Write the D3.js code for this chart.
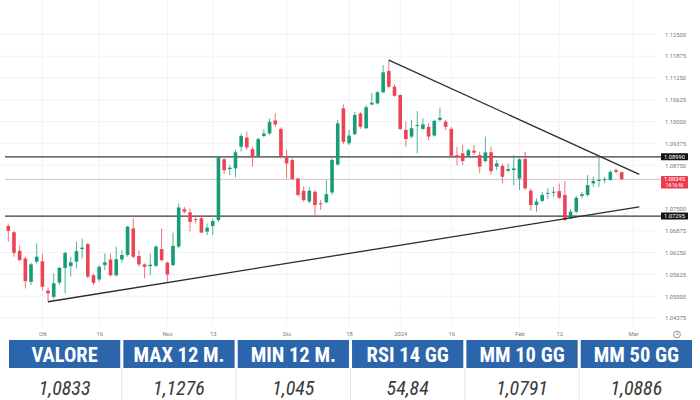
<!DOCTYPE html>
<html><head><meta charset="utf-8">
<script src="https://cdn.jsdelivr.net/npm/d3@7"></script>
<style>html,body{margin:0;padding:0;background:#fff;}svg{display:block;}</style>
</head><body>
<svg id="chart" width="700" height="400"></svg>
<script>
// ---- data ----
const candleOpen = [1.0701,1.0683,1.0630,1.0608,1.0541,1.0599,1.0600,1.0516,1.0498,1.0539,
1.0581,1.0586,1.0599,1.0635,1.0649,1.0560,1.0548,1.0589,1.0605,1.0560,
1.0605,1.0618,1.0694,1.0615,1.0591,1.0586,1.0587,1.0635,1.0596,1.0589,
1.0642,1.0749,1.0740,1.0721,1.0723,1.0685,1.0701,1.0718,1.0892,1.0864,
1.0866,1.0928,1.0954,1.0921,1.0901,1.0959,1.0966,1.1003,1.0979,1.0898,
1.0890,1.0837,1.0802,1.0771,1.0799,1.0766,1.0769,1.0797,1.0877,1.1038,
1.0938,1.0964,1.1023,1.0981,1.1049,1.1052,1.1084,1.1145,1.1100,1.1076,
1.0976,1.0957,1.0988,1.0979,1.0985,1.0960,1.1005,1.1000,1.0979,1.0904,
1.0909,1.0902,1.0917,1.0904,1.0887,1.0912,1.0871,1.0873,1.0859,1.0861,
1.0837,1.0893,1.0802,1.0761,1.0773,1.0794,1.0797,1.0801,1.0790,1.0723,
1.0742,1.0787,1.0790,1.0823,1.0830,1.0833,1.0833,1.0861,1.0855];
const candleHigh = [1.0708,1.0687,1.0646,1.0613,1.0596,1.0651,1.0622,1.0525,1.0565,1.0584,
1.0627,1.0613,1.0656,1.0665,1.0653,1.0565,1.0589,1.0622,1.0622,1.0642,
1.0632,1.0701,1.0723,1.0632,1.0594,1.0622,1.0646,1.0694,1.0599,1.0682,
1.0766,1.0756,1.0751,1.0732,1.0732,1.0708,1.0723,1.0901,1.0895,1.0876,
1.0919,1.0966,1.0971,1.0928,1.0955,1.0978,1.1009,1.1024,1.0983,1.0919,
1.0895,1.0840,1.0814,1.0812,1.0804,1.0775,1.0833,1.0895,1.1005,1.1049,
1.0976,1.1028,1.1028,1.1047,1.1081,1.1088,1.1162,1.1176,1.1107,1.1078,
1.1000,1.1005,1.1030,1.1009,1.0995,1.1005,1.1040,1.1005,1.0985,1.0928,
1.0933,1.0923,1.0933,1.0914,1.0957,1.0928,1.0890,1.0880,1.0880,1.0904,
1.0895,1.0914,1.0809,1.0780,1.0799,1.0809,1.0813,1.0823,1.0830,1.0749,
1.0787,1.0799,1.0847,1.0842,1.0899,1.0842,1.0861,1.0866,1.0856];
const candleLow = [1.0656,1.0613,1.0602,1.0522,1.0532,1.0594,1.0517,1.0484,1.0491,1.0532,
1.0508,1.0556,1.0580,1.0608,1.0551,1.0532,1.0541,1.0575,1.0556,1.0556,
1.0596,1.0613,1.0608,1.0584,1.0551,1.0560,1.0584,1.0599,1.0541,1.0586,
1.0637,1.0737,1.0685,1.0708,1.0680,1.0675,1.0675,1.0713,1.0850,1.0847,
1.0840,1.0914,1.0919,1.0871,1.0895,1.0955,1.0962,1.0985,1.0895,1.0837,
1.0833,1.0785,1.0771,1.0766,1.0732,1.0747,1.0766,1.0790,1.0875,1.0935,
1.0933,1.0961,1.0979,1.0979,1.1047,1.1049,1.1081,1.1095,1.1071,1.0976,
1.0928,1.0952,1.0909,1.0976,1.0947,1.0957,1.1000,1.0976,1.0899,1.0875,
1.0875,1.0899,1.0904,1.0852,1.0883,1.0849,1.0861,1.0823,1.0856,1.0818,
1.0804,1.0804,1.0744,1.0742,1.0769,1.0778,1.0785,1.0778,1.0715,1.0721,
1.0737,1.0780,1.0785,1.0813,1.0813,1.0823,1.0830,1.0852,1.0833];
const candleClose = [1.0687,1.0624,1.0603,1.0543,1.0591,1.0613,1.0527,1.0508,1.0537,1.0581,
1.0624,1.0597,1.0629,1.0639,1.0556,1.0538,1.0584,1.0597,1.0560,1.0606,
1.0618,1.0699,1.0613,1.0591,1.0584,1.0590,1.0642,1.0603,1.0562,1.0644,
1.0754,1.0742,1.0713,1.0718,1.0682,1.0696,1.0715,1.0898,1.0861,1.0868,
1.0912,1.0959,1.0926,1.0899,1.0950,1.0966,1.0999,1.0992,1.0899,1.0880,
1.0835,1.0790,1.0775,1.0802,1.0761,1.0764,1.0792,1.0890,1.0995,1.0942,
1.0960,1.1019,1.0985,1.1041,1.1054,1.1084,1.1141,1.1100,1.1074,1.0979,
1.0950,1.0981,1.0990,1.0992,1.0957,1.1002,1.1011,1.0985,1.0902,1.0899,
1.0887,1.0918,1.0911,1.0871,1.0912,1.0858,1.0880,1.0842,1.0864,1.0866,
1.0892,1.0809,1.0761,1.0771,1.0790,1.0796,1.0799,1.0782,1.0718,1.0742,
1.0782,1.0792,1.0818,1.0830,1.0833,1.0835,1.0856,1.0856,1.0835];

const xTickIndex = [6,16,28,36,49,60,69,78,90,97,110];
const xTickLabels = ["Ott","16","Nov","13","Dic","18","2024","16","Feb","12","Mar"];
const yTicks = [1.125,1.11875,1.1125,1.10625,1.1,1.09375,1.0875,1.075,1.06875,1.0625,1.05625,1.05,1.04375];

const levelValues = [1.0899, 1.07295];
const currentPrice = 1.08345;
const currentTimer = "14:16:46";
const trendDown = [[67, 1.1176], [111.1, 1.0849]];
const trendUp = [[7, 1.0484], [111.1, 1.0756]];

const tableHeaders = ["VALORE","MAX 12 M.","MIN 12 M.","RSI 14 GG","MM 10 GG","MM 50 GG"];
const tableValues = ["1,0833","1,1276","1,045","54,84","1,0791","1,0886"];

// ---- drawing ----
const svg = d3.select("#chart");
const UP = "#169c77", DOWN = "#ee4257";
const candles = candleOpen.map((o,i)=>({i, o, h:candleHigh[i], l:candleLow[i], c:candleClose[i]}));

const x = d3.scaleLinear().domain([0, candles.length-1]).range([8.3, 621.7]);
const y = d3.scaleLinear().domain([1.04375, 1.125]).range([318, 34.3]);

svg.append("rect").attr("width",700).attr("height",400).attr("fill","#fff");

// grid
const grid = svg.append("g");
grid.selectAll("line.h").data(yTicks).join("line")
  .attr("x1",0).attr("x2",656).attr("y1",d=>y(d)).attr("y2",d=>y(d))
  .attr("stroke","#f3f3f3").attr("stroke-width",1);
grid.selectAll("line.v").data(xTickIndex).join("line")
  .attr("x1",d=>x(d)).attr("x2",d=>x(d)).attr("y1",0).attr("y2",326)
  .attr("stroke","#f3f3f3").attr("stroke-width",1);

// current price line
svg.append("line").attr("x1",5).attr("x2",661)
  .attr("y1",y(currentPrice)).attr("y2",y(currentPrice))
  .attr("stroke","#d6c4c6").attr("stroke-width",1);

// level lines
svg.selectAll("line.level").data(levelValues).join("line")
  .attr("x1",5).attr("x2",661).attr("y1",d=>y(d)).attr("y2",d=>y(d))
  .attr("stroke","#3a3a3a").attr("stroke-width",1.3);

// candles
const cg = svg.append("g");
cg.selectAll("line.wick").data(candles).join("line")
  .attr("x1",d=>x(d.i)).attr("x2",d=>x(d.i))
  .attr("y1",d=>y(d.h)).attr("y2",d=>y(d.l))
  .attr("stroke",d=>d.c>=d.o?UP:DOWN).attr("stroke-opacity",0.75).attr("stroke-width",1);
const bw = 3.6;
cg.selectAll("rect.body").data(candles).join("rect")
  .attr("x",d=>x(d.i)-bw/2).attr("width",bw)
  .attr("y",d=>y(Math.max(d.o,d.c)))
  .attr("height",d=>Math.max(1, Math.abs(y(d.o)-y(d.c))))
  .attr("fill",d=>d.c>=d.o?UP:DOWN);

// trend lines
const tl = d3.line().x(d=>x(d[0])).y(d=>y(d[1]));
[trendDown, trendUp].forEach(t=>{
  svg.append("path").attr("d",tl(t)).attr("fill","none")
    .attr("stroke","#2b2b2b").attr("stroke-width",1.3);
});

// y axis labels
const yAxisG = svg.append("g").attr("transform","translate(686,0)")
  .call(d3.axisRight(y).tickValues(yTicks).tickFormat(d3.format(".5f")).tickSize(0).tickPadding(0));
yAxisG.select(".domain").remove();
yAxisG.selectAll("text").attr("text-anchor","end").attr("font-family","Roboto, sans-serif")
  .attr("font-size",5.8).attr("fill","#777");

// level label boxes
levelValues.forEach(v=>{
  const g = svg.append("g").attr("transform",`translate(661,${y(v)})`);
  g.append("rect").attr("x",0).attr("y",-3.5).attr("width",27).attr("height",7).attr("fill","#131313").attr("rx",0.5);
  g.append("text").attr("x",13.5).attr("y",2).attr("text-anchor","middle")
    .attr("font-family","Roboto, sans-serif").attr("font-size",5.8).attr("fill","#fff")
    .text(d3.format(".5f")(v));
});
{
  const g = svg.append("g").attr("transform",`translate(661,${y(currentPrice)})`);
  g.append("rect").attr("x",0).attr("y",-3.5).attr("width",27).attr("height",12.5).attr("fill","#ef3b4f").attr("rx",0.5);
  g.append("text").attr("x",13.5).attr("y",2).attr("text-anchor","middle")
    .attr("font-family","Roboto, sans-serif").attr("font-size",5.8).attr("fill","#fff")
    .text(d3.format(".5f")(currentPrice));
  g.append("text").attr("x",13.5).attr("y",7.6).attr("text-anchor","middle")
    .attr("font-family","Roboto, sans-serif").attr("font-size",4.6).attr("fill","#fff")
    .text(currentTimer);
}

// x axis labels
const xAxisG = svg.append("g").attr("transform","translate(0,334.5)")
  .call(d3.axisBottom(x).tickValues(xTickIndex).tickFormat((d,i)=>xTickLabels[i]).tickSize(0).tickPadding(0));
xAxisG.select(".domain").remove();
xAxisG.selectAll("text").attr("font-family","Roboto, sans-serif").attr("font-size",5.8).attr("fill","#777").attr("dy","0.3em").attr("y",0);

// clock icon
const ck = svg.append("g").attr("transform","translate(677,334.5)");
ck.append("circle").attr("r",3.4).attr("fill","none").attr("stroke","#777").attr("stroke-width",0.8);
ck.append("path").attr("d","M0,-2 V0 H1.6").attr("fill","none").attr("stroke","#777").attr("stroke-width",0.7);

// table
const col = d3.scaleBand().domain(d3.range(tableHeaders.length)).range([9, 692]).paddingInner(0.027);
const tg = svg.append("g");
tg.selectAll("rect.hdr").data(tableHeaders).join("rect")
  .attr("x",(d,i)=>col(i)).attr("y",340).attr("width",col.bandwidth()).attr("height",28)
  .attr("fill","#2b65ac");
tg.selectAll("text.hdr").data(tableHeaders).join("text")
  .attr("x",(d,i)=>col(i)+col.bandwidth()/2).attr("y",362)
  .attr("text-anchor","middle")
  .attr("font-family","'Liberation Sans Narrow', 'Roboto Condensed', Roboto, sans-serif")
  .attr("font-weight","bold").attr("font-size",20.5).attr("fill","#fff")
  .text(d=>d);
tg.selectAll("line.sep").data(d3.range(1, tableHeaders.length)).join("line")
  .attr("x1",i=>col(i)-col.step()*0.0135).attr("x2",i=>col(i)-col.step()*0.0135)
  .attr("y1",368).attr("y2",400).attr("stroke","#e4e4e4").attr("stroke-width",1);
tg.selectAll("text.val").data(tableValues).join("text")
  .attr("x",(d,i)=>col(i)+col.bandwidth()/2).attr("y",394.5)
  .attr("text-anchor","middle")
  .attr("font-family","'Liberation Sans Narrow', 'Roboto Condensed', Roboto, sans-serif")
  .attr("font-style","italic").attr("font-size",20).attr("fill","#3a3a3a")
  .text(d=>d);
</script>
</body></html>
